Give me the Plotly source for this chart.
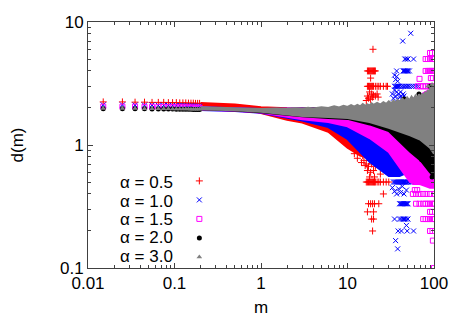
import plotly.graph_objects as go

# left-hand points, one per m step, before the curves run together
m_left = [0.015, 0.025, 0.035, 0.045, 0.055, 0.065, 0.075, 0.085, 0.095, 0.105,
          0.115, 0.125, 0.135, 0.145, 0.155, 0.165, 0.175, 0.185, 0.195]
red_left = [2.24, 2.24, 2.23, 2.23, 2.22, 2.22, 2.22, 2.21, 2.21, 2.21,
            2.20, 2.20, 2.20, 2.19, 2.19, 2.19, 2.18, 2.18, 2.18]
blue_left = [2.12, 2.12, 2.11, 2.11, 2.11, 2.10, 2.10, 2.10, 2.10, 2.09,
             2.09, 2.09, 2.08, 2.08, 2.08, 2.07, 2.07, 2.07, 2.06]
mag_left = [2.05, 2.05, 2.05, 2.04, 2.04, 2.04, 2.04, 2.03, 2.03, 2.03,
            2.03, 2.02, 2.02, 2.02, 2.02, 2.01, 2.01, 2.01, 2.01]
black_left = [1.97, 1.97, 1.97, 1.97, 1.96, 1.96, 1.96, 1.96, 1.96, 1.95,
              1.95, 1.95, 1.95, 1.95, 1.95, 1.94, 1.94, 1.94, 1.94]
gray_left = [1.98, 1.98, 1.98, 1.97, 1.97, 1.97, 1.97, 1.97, 1.96, 1.96,
             1.96, 1.96, 1.96, 1.96, 1.95, 1.95, 1.95, 1.95, 1.95]

# dense part of each series: lower and upper edge of the cloud
red_lo_m = [0.2, 0.5, 1, 2, 3, 6, 10, 12, 14, 16, 18, 19]
red_lo_d = [2.10, 2.02, 1.82, 1.60, 1.52, 1.28, 0.95, 0.88, 0.82, 0.80, 0.85, 1.0]
red_hi_m = [0.2, 0.5, 1, 2, 5, 10, 14, 19]
red_hi_d = [2.20, 2.13, 2.03, 1.99, 1.98, 2.00, 2.02, 1.90]

blue_lo_m = [0.2, 0.5, 1, 2, 3, 6, 10, 18, 30, 40, 50, 55]
blue_lo_d = [1.93, 1.89, 1.83, 1.66, 1.58, 1.40, 1.12, 0.73, 0.56, 0.56, 0.60, 0.75]
blue_hi_m = [0.2, 0.5, 1, 10, 30, 40, 50, 55]
blue_hi_d = [2.03, 2.00, 1.96, 2.00, 2.15, 2.25, 2.20, 1.90]

mag_lo_m = [0.2, 0.5, 1, 2, 3, 6, 10, 18, 30, 53, 70, 90, 100]
mag_lo_d = [1.94, 1.90, 1.84, 1.70, 1.62, 1.54, 1.42, 1.14, 0.88, 0.50, 0.48, 0.45, 0.45]
mag_hi_m = [0.2, 0.5, 1, 10, 40, 60, 70, 80, 90, 100]
mag_hi_d = [2.02, 1.99, 1.95, 2.00, 2.20, 2.40, 2.55, 2.70, 2.80, 2.80]

black_lo_m = [0.2, 0.5, 1, 2, 3, 6, 10, 18, 30, 53, 70, 90, 100]
black_lo_d = [1.95, 1.91, 1.85, 1.75, 1.71, 1.66, 1.63, 1.47, 1.30, 0.88, 0.75, 0.60, 0.54]
black_hi_m = [0.2, 1, 10, 30, 60, 100]
black_hi_d = [2.00, 1.94, 2.00, 2.10, 2.20, 2.50]

gray_lo_m = [0.2, 0.5, 1, 2, 3, 6, 10, 18, 30, 53, 70, 90, 100]
gray_lo_d = [1.95, 1.92, 1.86, 1.76, 1.72, 1.69, 1.66, 1.54, 1.38, 1.20, 1.10, 0.95, 0.85]
gray_hi_m = [0.2, 0.5, 1, 1.5, 2, 2.5, 3, 3.5, 4, 5,
             6, 7, 8, 9, 10, 11, 12, 13, 14, 15,
             16, 17, 18, 19, 20, 22, 24, 26, 28, 30,
             32, 34, 36, 38, 40, 43, 46, 49, 52, 55,
             58, 61, 64, 67, 70, 73, 76, 79, 82, 85,
             88, 91, 94, 97, 100]
gray_hi_d = [2.03, 2.00, 1.96, 1.98, 1.96, 1.99, 1.97, 2.01, 1.98, 2.03,
             2.00, 2.06, 2.02, 2.08, 2.04, 2.11, 2.05, 2.12, 2.06, 2.15,
             2.08, 2.14, 2.10, 2.18, 2.12, 2.20, 2.13, 2.23, 2.16, 2.26,
             2.18, 2.30, 2.20, 2.33, 2.24, 2.38, 2.28, 2.43, 2.30, 2.47,
             2.35, 2.52, 2.40, 2.58, 2.45, 2.62, 2.50, 2.70, 2.55, 2.80,
             2.60, 2.95, 2.70, 3.05, 2.80]

# scattered points and the rows of rational values at large m
red_pts_m = [19.7,
             17, 17.5, 18, 18.5, 19, 19.5, 20, 20.5, 21,
             18.5,
             17, 17.5, 18, 18.5, 19, 19.5, 20, 21, 22, 23, 24, 26, 28, 29,
             16.5, 17, 17.5, 18, 18.5, 19, 19.5, 20, 21, 22, 22.6,
             14, 15, 15.5, 16, 16.5, 17, 17.5, 18, 18.5, 19, 20, 21, 22, 24,
             12, 13, 13.5, 14.5, 15, 16, 17, 17.5, 18, 19, 20.5, 21,
             16.5, 17, 17.5, 18, 18.5, 19, 19.5, 20, 20.5, 21, 22, 23, 24, 26, 28, 30,
             26,
             17.5, 18.5, 19.5, 20.5, 23,
             17, 20,
             19, 20,
             19.5]
red_pts_d = [6.0,
             4, 4, 4, 4, 4, 4, 4, 4, 4,
             3.5,
             3, 3, 3, 3, 3, 3, 3, 3, 3, 3, 3, 3, 3, 3,
             2.3, 2.5, 2.4, 2.7, 2.35, 2.6, 2.45, 2.55, 2.5, 2.6, 2.45,
             0.9, 0.82, 0.75, 0.86, 0.7, 0.8, 0.67, 0.75, 0.6, 0.7, 0.62, 0.67, 0.72, 0.58,
             0.85, 0.78, 0.9, 0.72, 0.95, 0.68, 0.62, 0.85, 0.55, 0.78, 0.55, 0.8,
             0.5, 0.5, 0.5, 0.5, 0.5, 0.5, 0.5, 0.5, 0.5, 0.5, 0.5, 0.5, 0.5, 0.5, 0.5, 0.5,
             0.4,
             0.333, 0.333, 0.333, 0.333, 0.333,
             0.286, 0.286,
             0.25, 0.25,
             0.2]

blue_pts_m = [53.8, 43.5,
              46, 48, 50, 58,
              37, 44, 45, 46, 47, 48, 49, 50, 52,
              35, 36, 37, 38,
              35, 36, 37, 38, 39, 40, 42, 44, 46, 48, 50, 52, 55, 58, 62, 66,
              33, 34, 35, 36, 37, 38, 39, 40, 41, 42, 43, 44, 45,
              34, 35, 36, 37, 38, 39, 40, 41, 42, 43, 44, 45, 46, 47, 48, 50, 52, 54, 56,
              33, 35, 37, 39, 41, 43, 45, 48,
              40, 41, 42, 43, 44, 45, 46, 47, 48, 49, 50,
              35, 40, 42, 44, 45, 46, 48, 50,
              48,
              38.5, 42, 49, 58,
              36, 38]
blue_pts_d = [8.1, 7.0,
              5, 5, 5, 5,
              4, 4, 4, 4, 4, 4, 4, 4, 4,
              3.7, 3.4, 3.6, 3.3,
              3, 3, 3, 3, 3, 3, 3, 3, 3, 3, 3, 3, 3, 3, 3, 3,
              2.6, 2.4, 2.8, 2.5, 2.7, 2.35, 2.6, 2.45, 2.7, 2.5, 2.4, 2.6, 2.5,
              0.5, 0.5, 0.5, 0.5, 0.5, 0.5, 0.5, 0.5, 0.5, 0.5, 0.5, 0.5, 0.5, 0.5, 0.5, 0.5, 0.5, 0.5, 0.5,
              0.45, 0.42, 0.4, 0.44, 0.41, 0.46, 0.4, 0.43,
              0.333, 0.333, 0.333, 0.333, 0.333, 0.333, 0.333, 0.333, 0.333, 0.333, 0.333,
              0.25, 0.25, 0.25, 0.25, 0.25, 0.25, 0.25, 0.25,
              0.222,
              0.2, 0.2, 0.2, 0.2,
              0.167, 0.143]

mag_pts_m = [90, 95,
             80, 85, 90, 95, 100,
             80, 85, 88, 90, 93, 95, 98, 100,
             68, 92, 97,
             65, 70, 75, 80, 85, 90, 95, 100,
             60, 65, 70, 75, 80, 85, 90, 95, 100,
             60, 64,
             57, 62, 68, 75, 82, 90, 100,
             62, 68, 75, 80, 85, 90, 95, 100,
             90, 95,
             75, 80, 85, 90, 95, 100,
             90, 96,
             97,
             100]
mag_pts_d = [5.6, 5.6,
             5, 5, 5, 5, 5,
             4, 4, 4, 4, 4, 4, 4, 4,
             3.45, 3.5, 3.5,
             3, 3, 3, 3, 3, 3, 3, 3,
             0.5, 0.5, 0.5, 0.5, 0.5, 0.5, 0.5, 0.5, 0.5,
             0.43, 0.43,
             0.4, 0.4, 0.4, 0.4, 0.4, 0.4, 0.4,
             0.333, 0.333, 0.333, 0.333, 0.333, 0.333, 0.333, 0.333,
             0.286, 0.286,
             0.25, 0.25, 0.25, 0.25, 0.25, 0.25,
             0.2, 0.2,
             0.167,
             0.1]

black_pts_m = [45, 67, 90, 33, 44, 60, 72, 95]
black_pts_d = [2.37, 2.6, 3.0, 1.32, 1.1, 0.9, 0.76, 0.55]

gray_pts_m = [85, 95]
gray_pts_d = [3.0, 3.1]

labels = ["α = 0.5", "α = 1.0", "α = 1.5", "α = 2.0", "α = 3.0"]

RED = "#ff0000"
BLUE = "#0000ff"
MAG = "#ff00ff"
BLACK = "#000000"
GRAY = "#808080"

series = [
    (m_left, red_left, red_lo_m, red_lo_d, red_hi_m, red_hi_d, red_pts_m, red_pts_d,
     RED, dict(symbol="cross-thin", size=5, line=dict(color=RED, width=1))),
    (m_left, blue_left, blue_lo_m, blue_lo_d, blue_hi_m, blue_hi_d, blue_pts_m, blue_pts_d,
     BLUE, dict(symbol="x-thin", size=5, line=dict(color=BLUE, width=1))),
    (m_left, mag_left, mag_lo_m, mag_lo_d, mag_hi_m, mag_hi_d, mag_pts_m, mag_pts_d,
     MAG, dict(symbol="square-open", size=5, color=MAG, line=dict(width=1))),
    (m_left, black_left, black_lo_m, black_lo_d, black_hi_m, black_hi_d, black_pts_m, black_pts_d,
     BLACK, dict(symbol="circle", size=5, color=BLACK)),
    (m_left, gray_left, gray_lo_m, gray_lo_d, gray_hi_m, gray_hi_d, gray_pts_m, gray_pts_d,
     GRAY, dict(symbol="triangle-up", size=5, color=GRAY)),
]

fig = go.Figure()
for i, (ml, dl, lo_m, lo_d, hi_m, hi_d, pm, pd_, col, mk) in enumerate(series):
    # dense cloud as a filled outline
    fig.add_trace(go.Scatter(
        x=lo_m + hi_m[::-1], y=lo_d + hi_d[::-1],
        mode="lines", fill="toself", fillcolor=col,
        line=dict(color=col, width=2),
        showlegend=False, hoverinfo="skip"))
    # single points
    fig.add_trace(go.Scatter(
        x=ml + pm, y=dl + pd_, mode="markers", marker=mk,
        name=" ", legendgroup=str(i), showlegend=True))

minor_vals = [k * 10 ** e for e in range(-2, 2) for k in range(2, 10)]
axis_common = dict(
    type="log", showgrid=False, zeroline=False,
    showline=True, linecolor="#404040", linewidth=1, mirror="allticks",
    ticks="inside", ticklen=5, tickcolor="#404040",
    minor=dict(tickmode="array", tickvals=minor_vals, ticks="inside",
               ticklen=3, tickcolor="#404040", showgrid=False),
    tickfont=dict(size=17, color="black"),
)

fig.update_xaxes(axis_common, range=[-2, 2],
                 tickvals=[0.01, 0.1, 1, 10, 100],
                 ticktext=["0.01", "0.1", "1", "10", "100"],
                 title=dict(text="m", standoff=8, font=dict(size=17)))
fig.update_yaxes(axis_common, range=[-1, 1],
                 tickvals=[0.1, 1, 10],
                 ticktext=["0.1", "1", "10"],
                 title=dict(text="d(m)", standoff=37, font=dict(size=17)))

row_px = [182, 201, 219, 237, 256]
for lab, yy in zip(labels, row_px):
    fig.add_annotation(text=lab, xref="paper", yref="paper", x=(175 - 88) / 346,
                       y=(268 - yy) / 246,
                       xanchor="right", yanchor="middle", showarrow=False,
                       font=dict(size=17, color="black"))

# the page body has an 8px margin, so the figure is drawn 8px smaller
fig.update_layout(
    width=459, height=319,
    margin=dict(l=80, r=33, t=14, b=59, autoexpand=False),
    plot_bgcolor="white", paper_bgcolor="white",
    font=dict(family="Liberation Sans, Arial, sans-serif", size=17, color="black"),
    legend=dict(x=0.264, y=0.413, xanchor="left", yanchor="top",
                bgcolor="rgba(0,0,0,0)", font=dict(size=10),
                itemsizing="trace", tracegroupgap=0, itemwidth=30),
)

fig.write_html("out.html")
